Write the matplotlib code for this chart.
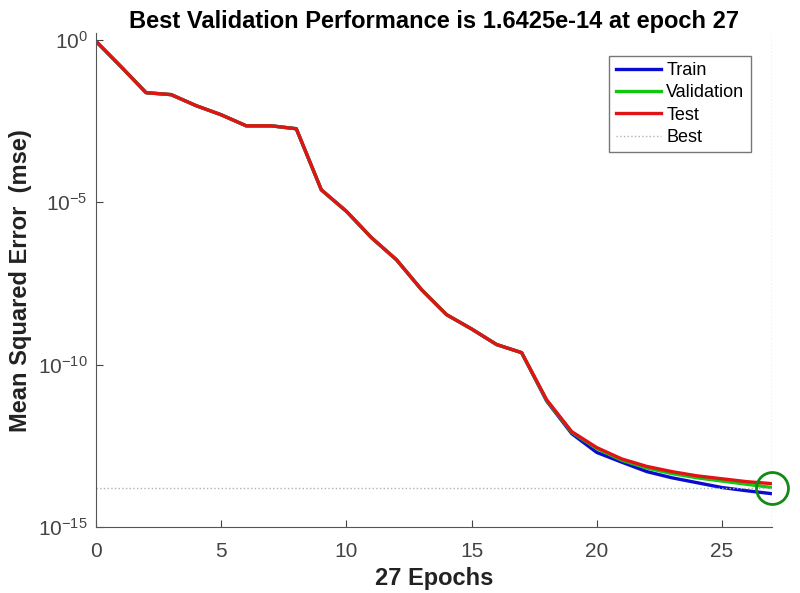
import matplotlib.pyplot as plt
import numpy as np

plt.rcParams['font.family'] = ['Liberation Sans', 'DejaVu Sans']

epochs = list(range(28))
# log10 of mse
train_log = [-0.05, -0.83, -1.63, -1.69, -2.03, -2.31, -2.65, -2.65, -2.74, -4.62,
             -5.28, -6.09, -6.77, -7.69, -8.46, -8.90, -9.38, -9.63, -11.12, -12.12,
             -12.70, -13.00, -13.29, -13.48, -13.63, -13.78, -13.88, -13.97]
val_log = [-0.05, -0.83, -1.63, -1.69, -2.03, -2.31, -2.65, -2.65, -2.74, -4.62,
           -5.28, -6.09, -6.77, -7.69, -8.46, -8.90, -9.38, -9.63, -11.10, -12.08,
           -12.58, -12.94, -13.18, -13.35, -13.48, -13.58, -13.68, -13.78]
test_log = [-0.05, -0.83, -1.63, -1.69, -2.03, -2.31, -2.65, -2.65, -2.74, -4.62,
            -5.28, -6.09, -6.77, -7.69, -8.46, -8.90, -9.38, -9.63, -11.08, -12.06,
            -12.55, -12.90, -13.13, -13.29, -13.42, -13.51, -13.60, -13.66]
best_epoch = 27
best_perf = 1.6425e-14

train = 10 ** np.array(train_log)
val = 10 ** np.array(val_log)
test = 10 ** np.array(test_log)

fig = plt.figure(figsize=(8, 5.93), dpi=100)
ax = fig.add_axes([0.12, 0.111, 0.845, 0.833])

ax.plot(epochs, train, color='#0a0ad0', lw=2.4, label='Train')
ax.plot(epochs, val, color='#10c810', lw=2.4, label='Validation')
ax.plot(epochs, test, color='#e01414', lw=2.4, label='Test')
ax.axhline(best_perf, color='#a8b4b8', lw=1.0, ls=':', label='Best')
ax.axvline(best_epoch, color='#a8b4b8', lw=1.0, ls=':')
ax.plot(best_epoch, best_perf, 'o', ms=23, mfc='none', mec='#138a13', mew=2,
        clip_on=False, zorder=5)

ax.set_yscale('log')
ax.set_xlim(0, 27)
ax.set_ylim(1e-15, 10 ** 0.2)
ax.set_yticks([1e0, 1e-5, 1e-10, 1e-15])
ax.yaxis.set_minor_locator(plt.NullLocator())
ax.set_xticks([0, 5, 10, 15, 20, 25])
ax.tick_params(direction='in', length=5, labelsize=15, colors='#444444', pad=6)
ax.tick_params(axis='x', pad=11)

for s in ['top', 'right']:
    ax.spines[s].set_visible(False)
for s in ['left', 'bottom']:
    ax.spines[s].set_color('#555555')

ax.set_title('Best Validation Performance is 1.6425e-14 at epoch 27',
             fontsize=17, fontweight='bold', pad=2)
ax.set_xlabel('27 Epochs', fontsize=17, fontweight='bold', color='#222222', labelpad=4)
ax.set_ylabel('Mean Squared Error  (mse)', fontsize=17, fontweight='bold',
              color='#222222', labelpad=4)

leg = ax.legend(loc='upper right', bbox_to_anchor=(0.982, 0.973), fontsize=13,
                fancybox=False, edgecolor='#555555', handlelength=2.5,
                handletextpad=0.3, borderpad=0.35, labelspacing=0.3)
leg.get_frame().set_linewidth(1.0)

fig.savefig('out.png')
